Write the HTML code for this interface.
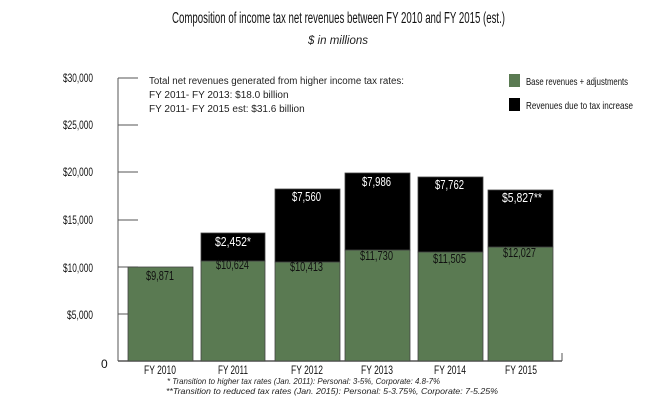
<!DOCTYPE html>
<html><head><meta charset="utf-8"><style>
body{margin:0;background:#fff;}
svg text{font-family:"Liberation Sans",sans-serif;}
</style></head><body>
<svg width="664" height="403" viewBox="0 0 664 403" xmlns="http://www.w3.org/2000/svg">
<text x="172" y="23" font-size="15.5" textLength="333" lengthAdjust="spacingAndGlyphs" fill="#111">Composition of income tax net revenues between FY 2010 and FY 2015 (est.)</text>
<text x="338" y="44" font-size="11.5" text-anchor="middle" font-style="italic" fill="#222">$ in millions</text>
<g font-size="12" fill="#111">
<text x="63" y="82" textLength="30" lengthAdjust="spacingAndGlyphs">$30,000</text>
<text x="63" y="129" textLength="30" lengthAdjust="spacingAndGlyphs">$25,000</text>
<text x="63" y="176" textLength="30" lengthAdjust="spacingAndGlyphs">$20,000</text>
<text x="63" y="224" textLength="30" lengthAdjust="spacingAndGlyphs">$15,000</text>
<text x="63" y="272" textLength="30" lengthAdjust="spacingAndGlyphs">$10,000</text>
<text x="67" y="319" textLength="26" lengthAdjust="spacingAndGlyphs">$5,000</text>
<text x="101" y="368">0</text>
</g>
<g stroke="#555" stroke-width="1">
<line x1="118" y1="78" x2="118" y2="361"/>
<line x1="118" y1="78" x2="138" y2="78"/><line x1="118" y1="125" x2="138" y2="125"/>
<line x1="118" y1="172" x2="138" y2="172"/><line x1="118" y1="220" x2="138" y2="220"/>
<line x1="118" y1="267" x2="138" y2="267"/><line x1="118" y1="314" x2="138" y2="314"/>
<line x1="118" y1="361" x2="562" y2="361" stroke-width="1.5"/>
<line x1="562" y1="353" x2="562" y2="361"/>
</g>
<g font-size="10" fill="#222">
<text x="149" y="84" textLength="255" lengthAdjust="spacingAndGlyphs">Total net revenues generated from higher income tax rates:</text>
<text x="149" y="98">FY 2011- FY 2013: $18.0 billion</text>
<text x="149" y="112">FY 2011- FY 2015 est: $31.6 billion</text>
</g>
<rect x="509" y="74" width="11" height="13" fill="#5a7a52"/>
<rect x="509" y="98" width="11" height="13" fill="#000"/>
<text x="526" y="85" font-size="10.5" fill="#111" textLength="102" lengthAdjust="spacingAndGlyphs">Base revenues + adjustments</text>
<text x="526" y="109" font-size="10.5" fill="#111" textLength="107" lengthAdjust="spacingAndGlyphs">Revenues due to tax increase</text>
<g stroke="#444" stroke-width="0.8">
<rect x="128" y="267" width="65" height="94" fill="#5a7a52"/>
<rect x="201" y="261" width="64" height="100" fill="#5a7a52"/><rect x="201" y="233" width="64" height="28" fill="#000"/>
<rect x="275" y="262" width="65" height="99" fill="#5a7a52"/><rect x="275" y="189" width="65" height="73" fill="#000"/>
<rect x="345" y="250" width="65" height="111" fill="#5a7a52"/><rect x="345" y="173" width="65" height="77" fill="#000"/>
<rect x="418" y="252" width="65" height="109" fill="#5a7a52"/><rect x="418" y="177" width="65" height="75" fill="#000"/>
<rect x="488" y="247" width="65" height="114" fill="#5a7a52"/><rect x="488" y="190" width="65" height="57" fill="#000"/>
</g>
<g font-size="13" fill="#111">
<text x="146" y="280" textLength="28" lengthAdjust="spacingAndGlyphs">$9,871</text>
<text x="216" y="269" textLength="33" lengthAdjust="spacingAndGlyphs">$10,624</text>
<text x="290" y="271" textLength="33" lengthAdjust="spacingAndGlyphs">$10,413</text>
<text x="360" y="260" textLength="33" lengthAdjust="spacingAndGlyphs">$11,730</text>
<text x="433" y="263" textLength="33" lengthAdjust="spacingAndGlyphs">$11,505</text>
<text x="503" y="257" textLength="33" lengthAdjust="spacingAndGlyphs">$12,027</text>
</g>
<g font-size="13" fill="#fff">
<text x="215" y="246" textLength="36" lengthAdjust="spacingAndGlyphs">$2,452*</text>
<text x="292" y="201" textLength="29" lengthAdjust="spacingAndGlyphs">$7,560</text>
<text x="362" y="186" textLength="29" lengthAdjust="spacingAndGlyphs">$7,986</text>
<text x="435" y="189" textLength="29" lengthAdjust="spacingAndGlyphs">$7,762</text>
<text x="502" y="202" textLength="40" lengthAdjust="spacingAndGlyphs">$5,827**</text>
</g>
<g font-size="12" fill="#111">
<text x="144" y="374" textLength="32" lengthAdjust="spacingAndGlyphs">FY 2010</text>
<text x="218" y="374" textLength="30" lengthAdjust="spacingAndGlyphs">FY 2011</text>
<text x="291" y="374" textLength="32" lengthAdjust="spacingAndGlyphs">FY 2012</text>
<text x="361" y="374" textLength="32" lengthAdjust="spacingAndGlyphs">FY 2013</text>
<text x="434" y="374" textLength="32" lengthAdjust="spacingAndGlyphs">FY 2014</text>
<text x="505" y="374" textLength="32" lengthAdjust="spacingAndGlyphs">FY 2015</text>
</g>
<text x="167" y="384" font-size="8.5" font-style="italic" fill="#222" textLength="273" lengthAdjust="spacingAndGlyphs">* Transition to higher tax rates (Jan. 2011): Personal: 3-5%, Corporate: 4.8-7%</text>
<text x="166" y="394" font-size="8.5" font-style="italic" fill="#222" textLength="332" lengthAdjust="spacingAndGlyphs">**Transition to reduced tax rates (Jan. 2015): Personal: 5-3.75%, Corporate: 7-5.25%</text>
</svg>
</body></html>
